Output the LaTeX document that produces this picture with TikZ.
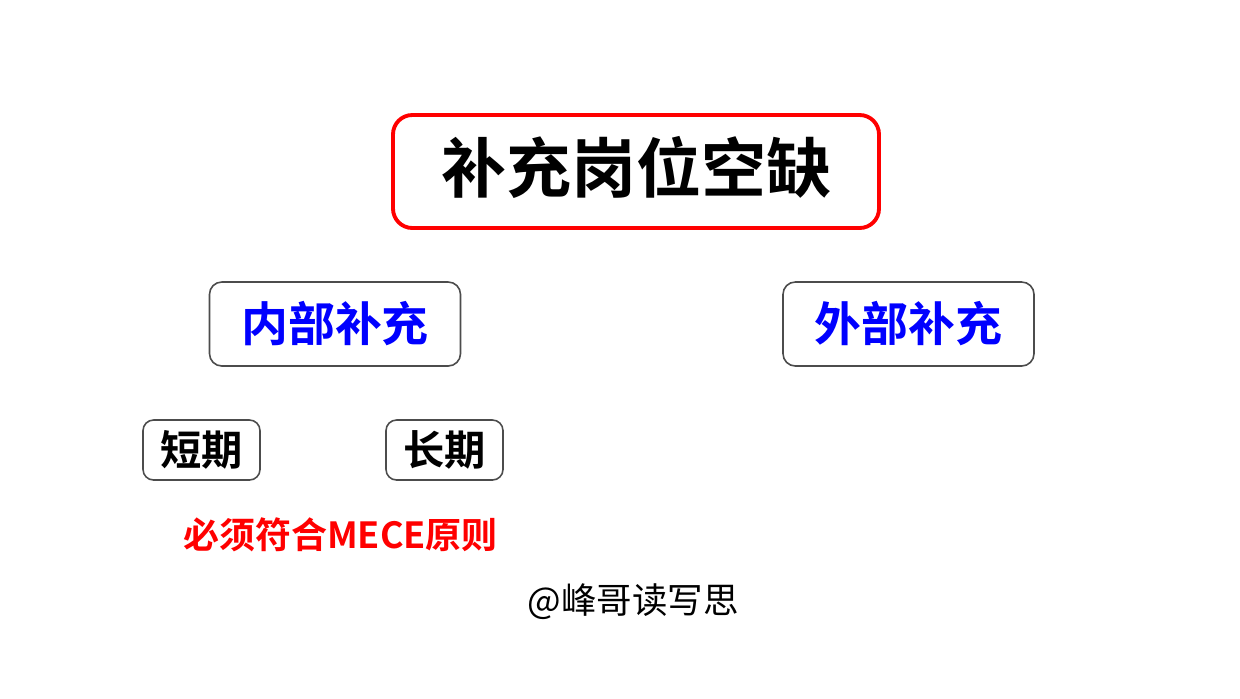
\documentclass[tikz,border=0pt]{standalone}
\usepackage{fontspec}
\newfontfamily\cjk{Noto Sans CJK SC}[BoldFont={Noto Sans CJK SC Bold}]
\begin{document}
\begin{tikzpicture}[x=0.02cm,y=-0.02cm,
  mainbox/.style={draw=red,line width=2.2pt,rounded corners=11pt,minimum width=486*0.02cm,minimum height=113*0.02cm,inner sep=0pt},
  midbox/.style={draw=black!70,line width=0.9pt,rounded corners=7pt,minimum width=251*0.02cm,minimum height=84*0.02cm,inner sep=0pt},
  smallbox/.style={draw=black!70,line width=0.9pt,rounded corners=6pt,minimum width=117*0.02cm,minimum height=60*0.02cm,inner sep=0pt}]
\useasboundingbox[fill=white] (0,0) rectangle (1240,698);
\node[mainbox] (main) at (636,171.5) {};
\node[font=\cjk\bfseries\fontsize{37}{40}\selectfont,inner sep=0pt] (maint) at (636.5,167) {补充岗位空缺};
\node[midbox,text=blue,font=\cjk\bfseries\fontsize{26.7}{30}\selectfont] (inner) at (335,324) {内部补充};
\node[midbox,text=blue,font=\cjk\bfseries\fontsize{26.7}{30}\selectfont] (outer) at (908.5,324) {外部补充};
\node[smallbox,font=\cjk\bfseries\fontsize{23.5}{26}\selectfont] (short) at (201.5,450) {短期};
\node[smallbox,font=\cjk\bfseries\fontsize{23.5}{26}\selectfont] (long) at (444.5,450) {长期};
\node[text=red,font=\cjk\bfseries\fontsize{20.5}{24}\selectfont,inner sep=0pt] (mece) at (340.5,535) {必须符合MECE原则};
\node[font=\cjk\fontsize{20.2}{24}\selectfont,inner sep=0pt] (sign) at (633,602) {@峰哥读写思};
\end{tikzpicture}
\end{document}
